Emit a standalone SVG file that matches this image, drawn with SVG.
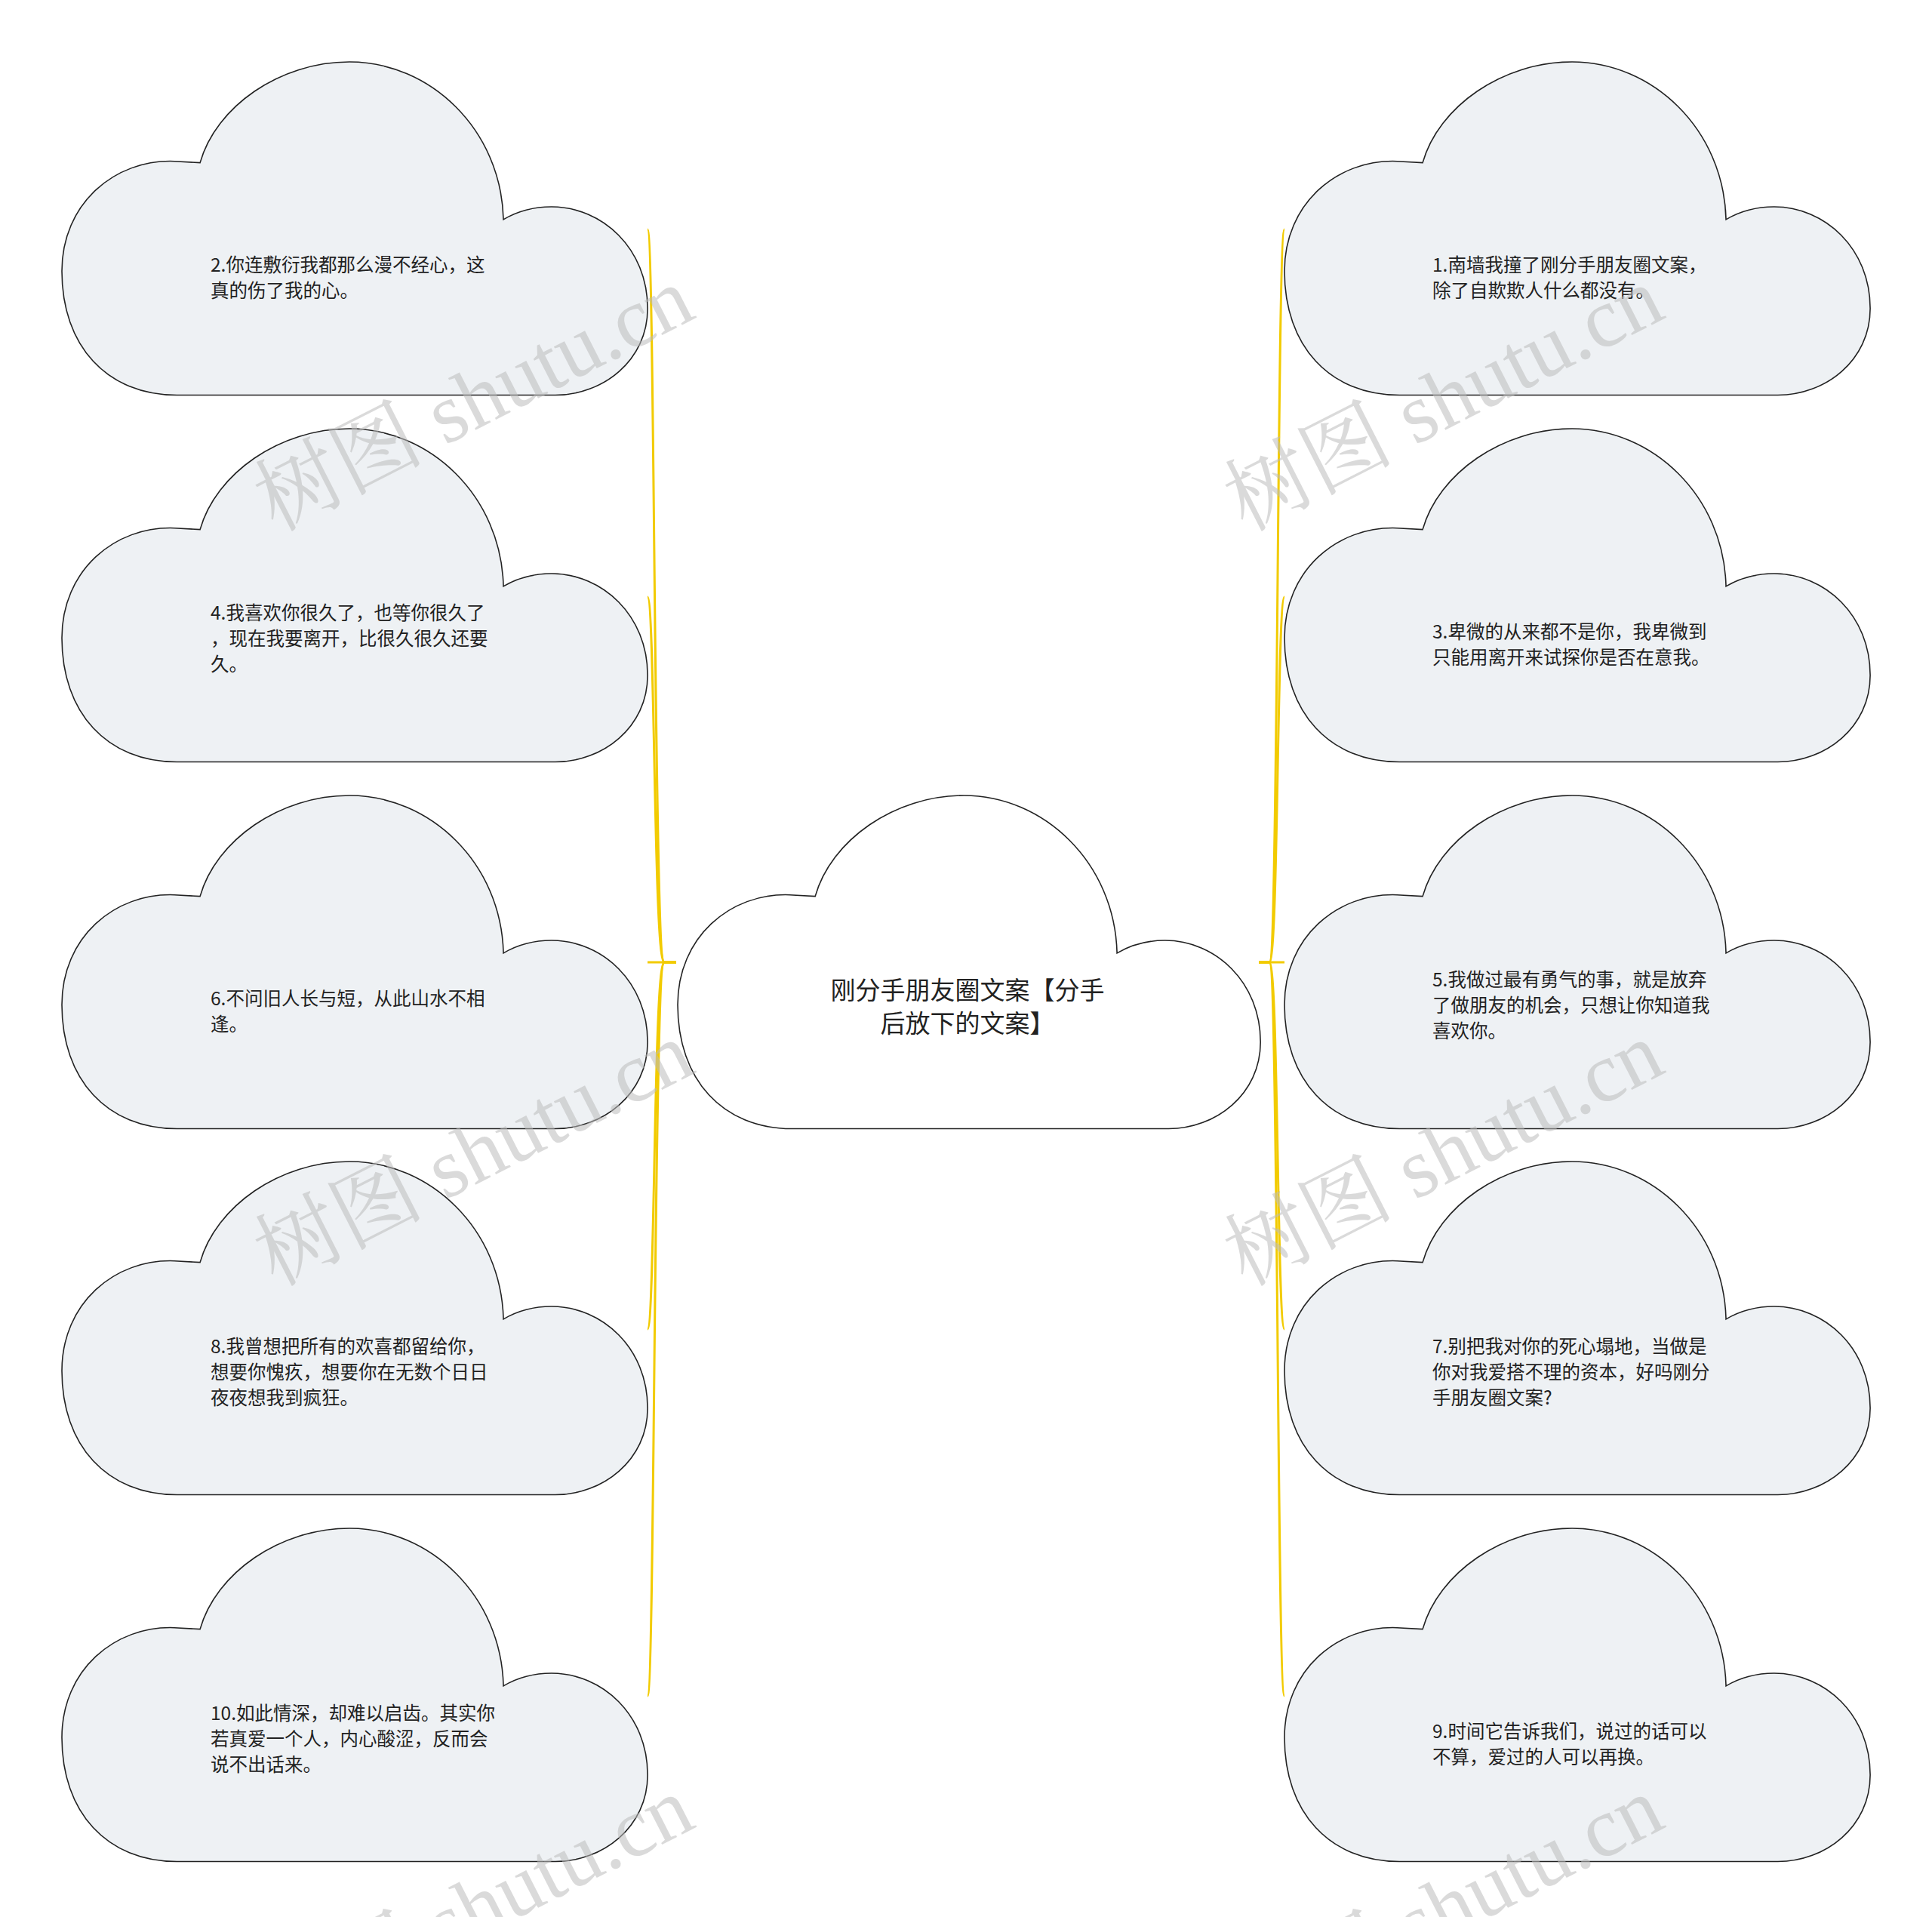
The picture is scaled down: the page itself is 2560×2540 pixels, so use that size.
<svg xmlns="http://www.w3.org/2000/svg" width="2560" height="2540" viewBox="0 0 2560 2540">
<style>
.cl{fill:#eef1f4;stroke:#222;stroke-width:1.6}
.cc{fill:#fff;stroke:#222;stroke-width:1.6}
.t{font-family:"Noto Sans CJK SC","Noto Sans",sans-serif;font-size:24.5px;fill:#222}
.tc{font-family:"Noto Sans CJK SC","Noto Sans",sans-serif;font-size:33px;fill:#222;text-anchor:middle}
.ln{fill:none;stroke:#f2cb00;stroke-width:3}
.wm{font-family:"Liberation Serif","Noto Serif CJK SC","Noto Sans CJK SC",serif;font-size:112px;fill:#bbb;fill-opacity:0.55}
</style>
<defs>
<path id="cloud" d="M153,446 C60,446 0,380 0,280 C0,190 70,130 150,133 L184,135 C205,60 290,0 383,0 C490,0 585,90 588,211 C610,198 630,194 652,194 C720,194 780,250 780,330 C780,400 720,446 657,446 Z"/>
</defs>
<rect width="2560" height="2540" fill="#fff"/>
<g id="connectors">
<path class="ln" d="M896,1275 L880,1275 C866,1275 868,304 858,304"/>
<path class="ln" d="M896,1275 L880,1275 C866,1275 868,791 858,791"/>
<path class="ln" d="M896,1275 L858,1275"/>
<path class="ln" d="M896,1275 L880,1275 C866,1275 868,1761 858,1761"/>
<path class="ln" d="M896,1275 L880,1275 C866,1275 868,2247 858,2247"/>
<path class="ln" d="M1668,1275 L1682,1275 C1694,1275 1692,304 1702,304"/>
<path class="ln" d="M1668,1275 L1682,1275 C1694,1275 1692,791 1702,791"/>
<path class="ln" d="M1668,1275 L1702,1275"/>
<path class="ln" d="M1668,1275 L1682,1275 C1694,1275 1692,1761 1702,1761"/>
<path class="ln" d="M1668,1275 L1682,1275 C1694,1275 1692,2247 1702,2247"/>
</g>
<g id="center">
<use href="#cloud" class="cc" transform="translate(898,1054) scale(0.99,0.99)"/>
<text class="tc" x="1282" y="1324">刚分手朋友圈文案【分手</text>
<text class="tc" x="1282" y="1368">后放下的文案】</text>
</g>
<g id="n2"><use href="#cloud" class="cl" transform="translate(82,82) scale(0.995,0.99)"/>
<text class="t" x="279" y="360">2.你连敷衍我都那么漫不经心，这</text><text class="t" x="279" y="394">真的伤了我的心。</text></g>
<g id="n4"><use href="#cloud" class="cl" transform="translate(82,568) scale(0.995,0.99)"/>
<text class="t" x="279" y="821">4.我喜欢你很久了，也等你很久了</text><text class="t" x="279" y="855">，现在我要离开，比很久很久还要</text><text class="t" x="279" y="889">久。</text></g>
<g id="n6"><use href="#cloud" class="cl" transform="translate(82,1054) scale(0.995,0.99)"/>
<text class="t" x="279" y="1332">6.不问旧人长与短，从此山水不相</text><text class="t" x="279" y="1366">逢。</text></g>
<g id="n8"><use href="#cloud" class="cl" transform="translate(82,1539) scale(0.995,0.99)"/>
<text class="t" x="279" y="1793">8.我曾想把所有的欢喜都留给你，</text><text class="t" x="279" y="1827">想要你愧疚，想要你在无数个日日</text><text class="t" x="279" y="1861">夜夜想我到疯狂。</text></g>
<g id="n10"><use href="#cloud" class="cl" transform="translate(82,2025) scale(0.995,0.99)"/>
<text class="t" x="279" y="2279">10.如此情深，却难以启齿。其实你</text><text class="t" x="279" y="2313">若真爱一个人，内心酸涩，反而会</text><text class="t" x="279" y="2347">说不出话来。</text></g>
<g id="n1"><use href="#cloud" class="cl" transform="translate(1702,82) scale(0.995,0.99)"/>
<text class="t" x="1898" y="360">1.南墙我撞了刚分手朋友圈文案，</text><text class="t" x="1898" y="394">除了自欺欺人什么都没有。</text></g>
<g id="n3"><use href="#cloud" class="cl" transform="translate(1702,568) scale(0.995,0.99)"/>
<text class="t" x="1898" y="846">3.卑微的从来都不是你，我卑微到</text><text class="t" x="1898" y="880">只能用离开来试探你是否在意我。</text></g>
<g id="n5"><use href="#cloud" class="cl" transform="translate(1702,1054) scale(0.995,0.99)"/>
<text class="t" x="1898" y="1307">5.我做过最有勇气的事，就是放弃</text><text class="t" x="1898" y="1341">了做朋友的机会，只想让你知道我</text><text class="t" x="1898" y="1375">喜欢你。</text></g>
<g id="n7"><use href="#cloud" class="cl" transform="translate(1702,1539) scale(0.995,0.99)"/>
<text class="t" x="1898" y="1793">7.别把我对你的死心塌地，当做是</text><text class="t" x="1898" y="1827">你对我爱搭不理的资本，好吗刚分</text><text class="t" x="1898" y="1861">手朋友圈文案?</text></g>
<g id="n9"><use href="#cloud" class="cl" transform="translate(1702,2025) scale(0.995,0.99)"/>
<text class="t" x="1898" y="2303">9.时间它告诉我们，说过的话可以</text><text class="t" x="1898" y="2337">不算，爱过的人可以再换。</text></g>
<g id="watermarks">
<text class="wm" transform="translate(365,705) rotate(-27)">树图 shutu.cn</text>
<text class="wm" transform="translate(1650,705) rotate(-27)">树图 shutu.cn</text>
<text class="wm" transform="translate(365,1705) rotate(-27)">树图 shutu.cn</text>
<text class="wm" transform="translate(1650,1705) rotate(-27)">树图 shutu.cn</text>
<text class="wm" transform="translate(365,2705) rotate(-27)">树图 shutu.cn</text>
<text class="wm" transform="translate(1650,2705) rotate(-27)">树图 shutu.cn</text>
</g>
</svg>
